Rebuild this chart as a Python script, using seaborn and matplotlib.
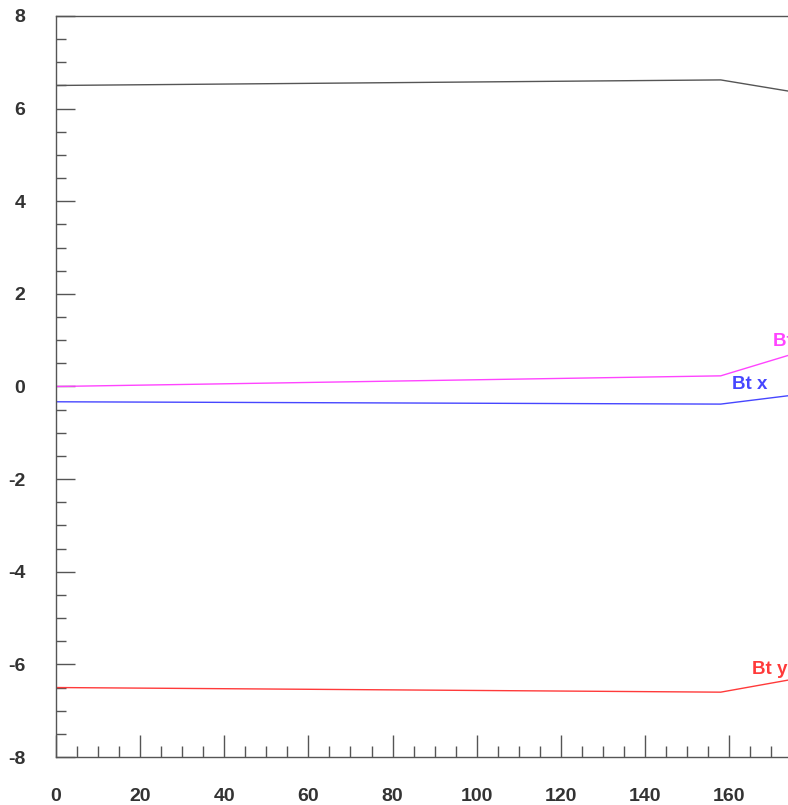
import numpy as np
import pandas as pd
import matplotlib
matplotlib.use("Agg")
import matplotlib.pyplot as plt
import seaborn as sns
from matplotlib.ticker import MultipleLocator

# Field components along the track
x_pos = [0, 158, 174]
bt_mag = [6.50, 6.62, 6.38]
bt_z = [0.00, 0.23, 0.67]
bt_x = [-0.33, -0.38, -0.20]
bt_y = [-6.50, -6.60, -6.34]

series_names = ["|Bt|", "Bt z", "Bt x", "Bt y"]
series_values = [bt_mag, bt_z, bt_x, bt_y]
series_colors = ["#555555", "#ff44ff", "#4646ff", "#ff3a3a"]

df = pd.DataFrame({
    "x": np.tile(x_pos, len(series_names)),
    "value": np.concatenate(series_values),
    "series": np.repeat(series_names, len(x_pos)),
})

sns.set_style("white")
plt.rcParams["font.family"] = ["Liberation Sans", "DejaVu Sans"]
plt.rcParams["axes.unicode_minus"] = False

fig = plt.figure(figsize=(7.88, 8.05), dpi=100)
ax = fig.add_axes([56 / 788, 48 / 805, 732 / 788, 741 / 805])

sns.lineplot(data=df, x="x", y="value", hue="series",
             palette=dict(zip(series_names, series_colors)),
             linewidth=1.0, legend=False, ax=ax)

# End-of-line labels
ax.text(160.8, -0.06, "Bt x", color="#4646ff", fontsize=13.5, fontweight="bold")
ax.text(165.5, -6.2, "Bt y", color="#ff3a3a", fontsize=13.5, fontweight="bold")
ax.text(170.5, 0.88, "Bt z", color="#ff44ff", fontsize=13.5, fontweight="bold")

ax.set_xlim(0, 174)
ax.set_ylim(-8, 8)
ax.xaxis.set_major_locator(MultipleLocator(20))
ax.xaxis.set_minor_locator(MultipleLocator(5))
ax.yaxis.set_major_locator(MultipleLocator(2))
ax.yaxis.set_minor_locator(MultipleLocator(0.5))
ax.tick_params(which="both", bottom=True, left=True, top=False, right=False)
ax.tick_params(which="major", direction="in", length=16, width=1.0, color="#555555",
               labelsize=14, pad=22)
ax.tick_params(which="minor", direction="in", length=8, width=1.0, color="#555555")
ax.tick_params(axis="y", which="major", length=14, pad=22)
ax.tick_params(axis="y", which="minor", length=7)
for lab in ax.get_xticklabels() + ax.get_yticklabels():
    lab.set_fontweight("bold")
    lab.set_color("#333333")
ax.set_xlabel("")
ax.set_ylabel("")
for side in ["left", "top", "bottom"]:
    ax.spines[side].set_color("#555555")
    ax.spines[side].set_linewidth(1.0)
ax.spines["right"].set_visible(False)

fig.savefig("out.png", dpi=100)
